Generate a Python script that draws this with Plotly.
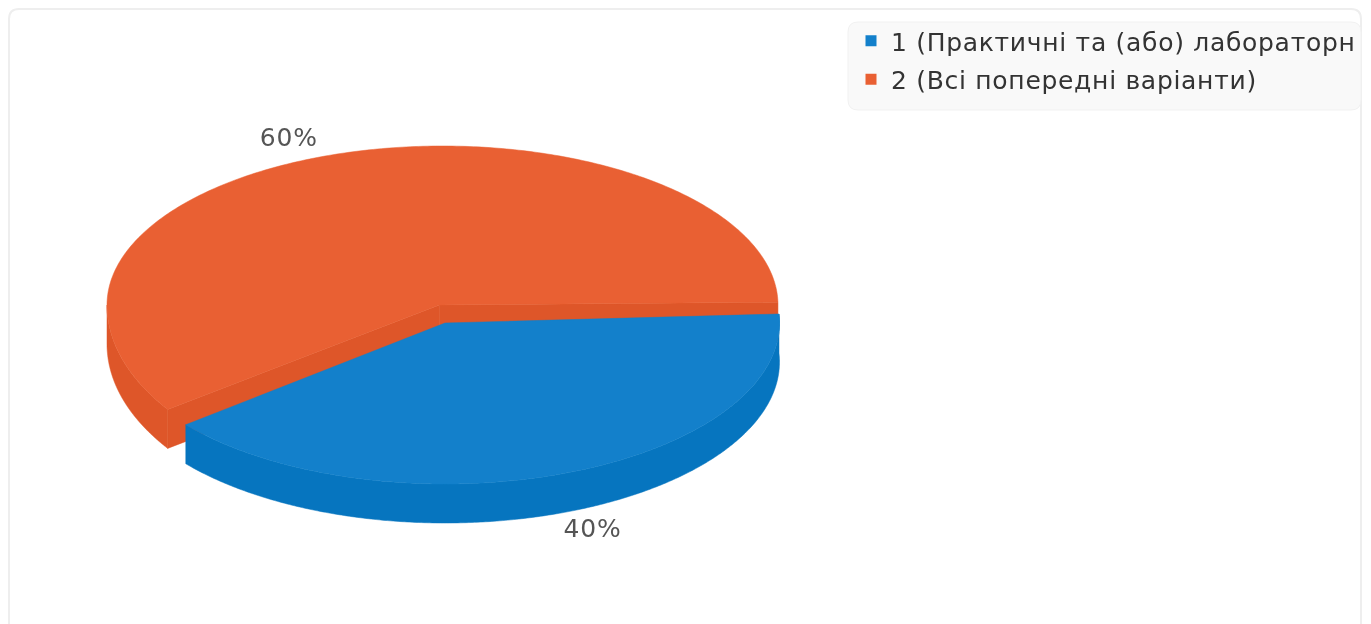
import numpy as np
import plotly.graph_objects as go

# Data
categories = ["1 (Практичні та (або) лабораторн", "2 (Всі попередні варіанти)"]
values = [40, 60]
percent_labels = ["40%", "60%"]

# Styles and placement
TOP = ["#1380CB", "#E96033"]
SIDE = ["#0675BF", "#DE5629"]
CENTER = [(445.0, 323.0), (442.5, 305.0)]
APEX = [(445.0, 323.0), (439.5, 305.0)]
RX = [334.5, 335.5]
RY_UP = [161.0, 159.0]
RY_LOW = [161.0, 182.0]
START = [-3.2, 1.0]
END_TRIM = 2.0
LABEL_K = [(1.22, 1.125), (1.267, 1.115)]
LABEL_START = -3.2
DEPTH = 39.0
W, H = 1371, 624


def arc(i, a0, a1, n=300):
    t = np.radians(np.linspace(a0, a1, n))
    s = np.sin(t)
    return (CENTER[i][0] + RX[i] * np.cos(t),
            CENTER[i][1] + np.where(s < 0, RY_UP[i], RY_LOW[i]) * s)


def poly(x, y, color):
    return go.Scatter(x=list(x) + [x[0]], y=list(y) + [y[0]], mode="lines", fill="toself",
                      fillcolor=color, line=dict(color=color, width=0.5, simplify=False),
                      hoverinfo="skip", showlegend=False)


total = sum(values)
span = [360 * v / total for v in values]

traces = []
# Series 2 (behind): outer rim, cut walls, top
i = 1
a0, a1 = START[i] + span[0], START[i] + 360 - END_TRIM
ax_, ay_ = APEX[i]
xa, ya = arc(i, a0, a1)
xs, ys = arc(i, a0, 180)
traces.append(poly(np.r_[xs, xs[::-1]], np.r_[ys, ys[::-1] + DEPTH], SIDE[i]))
for k in (0, -1):
    traces.append(poly([ax_, xa[k], xa[k], ax_], [ay_, ya[k], ya[k] + DEPTH, ay_ + DEPTH], SIDE[i]))
traces.append(poly(np.r_[ax_, xa], np.r_[ay_, ya], TOP[i]))

# Series 1 (front, pulled out)
i = 0
a0, a1 = START[i], START[i] + span[0]
ax_, ay_ = APEX[i]
xa, ya = arc(i, a0, a1)
traces.append(poly(np.r_[xa, xa[::-1]], np.r_[ya, ya[::-1] + DEPTH], SIDE[i]))
traces.append(poly(np.r_[ax_, xa], np.r_[ay_, ya], TOP[i]))

# Percent labels, placed from slice mid-angles
lx, ly = [], []
cum = LABEL_START
for j in range(2):
    mid = np.radians(cum + span[j] / 2)
    cum += span[j]
    c, s = np.cos(mid), np.sin(mid)
    lx.append(CENTER[j][0] + RX[j] * LABEL_K[j][0] * c)
    ly.append(CENTER[j][1] + RY_UP[j] * LABEL_K[j][1] * s + (DEPTH if s > 0 else 0))
traces.append(go.Scatter(x=lx, y=ly, mode="text", text=percent_labels, textposition="middle center",
                         textfont=dict(family="DejaVu Sans", size=25, color="#555555"),
                         hoverinfo="skip", showlegend=False))

# Legend entries
for j in range(2):
    traces.append(go.Scatter(x=[None], y=[None], mode="markers", name=categories[j],
                             legendgroup=str(j),
                             marker=dict(symbol="square", size=11, color=TOP[j])))

fig = go.Figure(traces)


def rrect(x0, y0, x1, y1, r):
    return (f"M{x0+r},{y0} L{x1-r},{y0} Q{x1},{y0} {x1},{y0+r} L{x1},{y1-r} Q{x1},{y1} {x1-r},{y1} "
            f"L{x0+r},{y1} Q{x0},{y1} {x0},{y1-r} L{x0},{y0+r} Q{x0},{y0} {x0+r},{y0} Z")


shapes = [
    dict(type="path", path=rrect(9, 9, 1361, 660, 10), line=dict(color="#EEEEEE", width=2),
         fillcolor="#FFFFFF", layer="below"),
    dict(type="path", path=rrect(848, 22, 1361, 110, 10), line=dict(color="#F1F1F1", width=1),
         fillcolor="#F9F9F9", layer="below"),
]

fig.update_layout(
    width=W, height=H, margin=dict(l=0, r=0, t=0, b=0, autoexpand=False),
    paper_bgcolor="#FFFFFF", plot_bgcolor="rgba(0,0,0,0)",
    xaxis=dict(range=[0, W], visible=False, fixedrange=True),
    yaxis=dict(range=[H, 0], visible=False, fixedrange=True),
    shapes=shapes,
    legend=dict(x=851 / W, y=1 - 18 / H, xanchor="left", yanchor="top", bgcolor="rgba(0,0,0,0)",
                font=dict(family="DejaVu Sans", size=25, color="#333333"),
                itemsizing="trace", traceorder="grouped", tracegroupgap=3),
)
post = """
document.body.style.margin = '0';
document.querySelectorAll('.legendtext').forEach(function(t){ t.style.letterSpacing = '0.7px'; });
document.querySelectorAll('.textpoint text').forEach(function(t){ t.style.letterSpacing = '0.8px'; });
document.querySelectorAll('.legend .scrollbox, .legend').forEach(function(t){ t.removeAttribute('clip-path'); t.style.clipPath = 'none'; });
document.querySelectorAll('.plot-container').forEach(function(t){ t.style.filter = 'blur(0.5px)'; });
"""
fig.write_html("out.html", config={"displayModeBar": False}, post_script=post)
